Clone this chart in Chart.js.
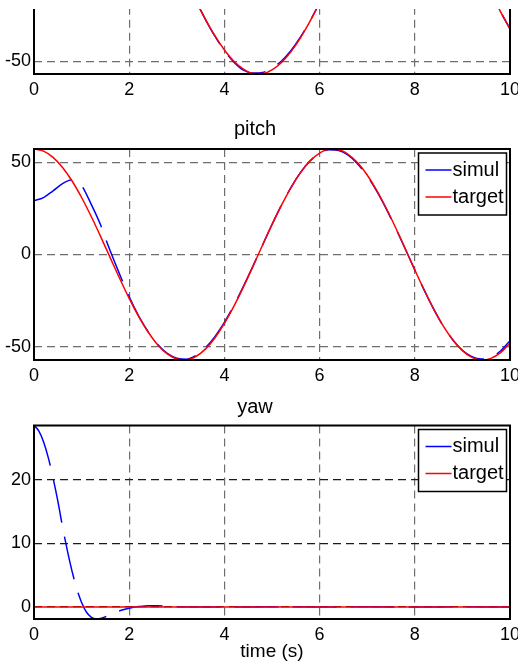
<!DOCTYPE html>
<html>
<head>
<meta charset="utf-8">
<script src="https://cdn.jsdelivr.net/npm/chart.js@4.4.0/dist/chart.umd.min.js"></script>
<style>
  html, body { margin: 0; padding: 0; background: #fff; overflow: hidden; width: 518px; height: 665px; }
  .painel { position: absolute; left: 0; }
  #caixaRoll { position: absolute; left: 0; top: 9px; width: 540px; height: 91px; overflow: hidden; }
  #graficoRoll { position: absolute; left: 0; top: -146px; }
</style>
</head>
<body>
<div id="caixaRoll"><canvas id="graficoRoll" width="540" height="241"></canvas></div>
<canvas id="graficoPitch" class="painel" style="top:110px" width="540" height="280"></canvas>
<canvas id="graficoYaw" class="painel" style="top:390px" width="540" height="275"></canvas>

<script>
// ================================
// Dados
// ================================
const tempoTicks = [0, 2, 4, 6, 8, 10]
const anguloTicks = [-50, 0, 50]
const yawTicks = [0, 10, 20]

const tempo = [
  0, 0.2, 0.4, 0.6, 0.8, 1.0, 1.2, 1.4, 1.6, 1.8, 2.0, 2.2, 2.4, 2.6, 2.8, 3.0, 3.2,
  3.4, 3.6, 3.8, 4.0, 4.2, 4.4, 4.6, 4.8, 5.0, 5.2, 5.4, 5.6, 5.8, 6.0, 6.2, 6.4,
  6.6, 6.8, 7.0, 7.2, 7.4, 7.6, 7.8, 8.0, 8.2, 8.4, 8.6, 8.8, 9.0, 9.2, 9.4, 9.6,
  9.8, 10.0,
]

// roll (painel de cima, cortado)
const rollTarget = [
  0, 11.38, 22.31, 32.35, 41.1, 48.22, 53.4, 56.47, 57.28, 55.8, 52.1, 46.33, 38.71,
  29.54, 19.2, 8.09, -3.35, -14.64, -25.36, -35.06, -43.36, -49.94, -54.53, -56.94,
  -57.08, -54.95, -50.62, -44.28, -36.17, -26.62, -16.01, -4.76, 6.68, 17.85, 28.31,
  37.65, 45.48, 51.5, 55.46, 57.21, 56.69, 53.9, 48.97, 42.08, 33.52, 23.61, 12.77,
  1.42, -9.99, -21.0, -31.17,
]
const rollSimul = [
  0, 11.3, 22.2, 32.3, 41.0, 48.1, 53.3, 56.4, 57.2, 55.8, 52.1, 46.3, 38.7,
  29.5, 19.2, 8.1, -3.3, -14.7, -25.5, -35.3, -43.8, -50.4, -55.0, -56.7,
  -56.4, -54.0, -49.7, -43.6, -35.8, -26.4, -15.9, -4.7, 6.7, 17.8, 28.3,
  37.6, 45.5, 51.5, 55.4, 57.2, 56.7, 53.9, 49.0, 42.1, 33.5, 23.6, 12.8,
  1.4, -10.0, -21.0, -31.1,
]

// pitch
const pitchTarget = [
  57.3, 56.16, 52.78, 47.29, 39.92, 30.96, 20.76, 9.74, -1.67, -13.02, -23.84, -33.72,
  -42.25, -49.1, -53.99, -56.73, -57.2, -55.4, -51.39, -45.32, -37.45, -28.09, -17.61,
  -6.43, 5.01, 16.26, 26.84, 36.37, 44.44, 50.74, 55.02, 57.1, 56.91, 54.45, 49.82,
  43.2, 34.86, 25.13, 14.4, 3.09, -8.34, -19.44, -29.76, -38.89, -46.48, -52.21,
  -55.86, -57.29, -56.42, -53.3, -48.08,
]
const pitchSimulTempo = [
  0, 0.2, 0.4, 0.6, 0.8, 0.9, 1.0, 1.2, 1.4, 1.5, 1.6, 1.8, 2.0, 2.2, 2.4, 2.6, 2.8,
  3.0, 3.2, 3.4, 3.6, 3.8, 4.0, 4.2, 4.4, 4.6, 4.8, 5.0, 5.2, 5.4, 5.6, 5.8, 6.0, 6.2,
  6.4, 6.6, 6.8, 7.0, 7.2, 7.4, 7.6, 7.8, 8.0, 8.2, 8.4, 8.6, 8.8, 9.0, 9.2, 9.4, 9.6,
  9.8, 10.0,
]
const pitchSimul = [
  29.2, 30.9, 34.6, 38.5, 40.6, 40.0, 37.5, 27.4, 16.0, 8.8, 2.0, -10.8, -23.0, -33.4,
  -42.0, -48.9, -53.7, -56.3, -56.9, -54.9, -50.7, -44.6, -36.9, -27.6, -17.3, -6.3,
  5.0, 16.3, 26.9, 36.5, 44.6, 50.9, 55.0, 56.9, 56.5, 53.9, 49.2, 42.6, 34.4, 24.8,
  14.2, 3.0, -8.4, -19.5, -29.8, -38.9, -46.4, -52.0, -55.5, -56.8, -55.9, -52.4, -46.8,
]

// yaw
const yawTargetTempo = [0, 10]
const yawTarget = [0, 0]
const yawSimulTempo = [
  0, 0.1, 0.2, 0.3, 0.4, 0.5, 0.6, 0.7, 0.8, 0.9, 1.0, 1.1, 1.2, 1.3, 1.4, 1.5, 1.6,
  1.8, 2.0, 2.2, 2.4, 2.6, 2.8, 3.0, 3.5, 4, 5, 6, 7, 8, 9, 10,
]
const yawSimul = [
  28.55, 27.7, 26.0, 23.5, 20.3, 16.7, 12.6, 8.9, 5.6, 2.8, 0.7, -0.8, -1.6, -1.88,
  -1.8, -1.55, -1.25, -0.6, -0.2, 0.05, 0.2, 0.2, 0.1, 0.02, 0, -0.03, 0.02, 0, 0.02,
  0, 0.01, 0,
]

// ================================
// Estilo
// ================================
const FONTE = "'Liberation Sans', Arial, sans-serif"
const AZUL = "#0000ff"
const VERMELHO = "#ff0000"
const CINZA = "#6e6e6e"

Chart.defaults.font.family = FONTE
Chart.defaults.color = "#000"

function pares(xs, ys) {
  return xs.map((x, i) => ({ x: x, y: ys[i] }))
}

// moldura fechada (box on)
const pluginMoldura = {
  id: "moldura",
  afterDatasetsDraw(chart) {
    const { ctx, chartArea: a } = chart
    ctx.save()
    ctx.strokeStyle = "#000"
    ctx.lineWidth = 2
    ctx.strokeRect(a.left, a.top, a.right - a.left, a.bottom - a.top)
    ctx.restore()
  },
}

// legenda dentro do eixo, canto superior direito
const pluginLegenda = {
  id: "legendaCaixa",
  afterDraw(chart, args, opts) {
    if (!opts.display) return
    const { ctx, chartArea: a } = chart
    const w = 88
    const h = 62
    const x0 = a.right - 3.5 - w
    const y0 = a.top + 4
    ctx.save()
    ctx.fillStyle = "#fff"
    ctx.fillRect(x0, y0, w, h)
    ctx.strokeStyle = "#000"
    ctx.lineWidth = 1.5
    ctx.strokeRect(x0, y0, w, h)
    ctx.font = "20px " + FONTE
    ctx.textBaseline = "middle"
    chart.data.datasets.forEach((ds, i) => {
      const y = y0 + 17 + i * 27
      ctx.strokeStyle = ds.borderColor
      ctx.lineWidth = 1.5
      ctx.beginPath()
      ctx.moveTo(x0 + 7, y)
      ctx.lineTo(x0 + 33, y)
      ctx.stroke()
      ctx.fillStyle = "#000"
      ctx.fillText(ds.label, x0 + 34, y)
    })
    ctx.restore()
  },
}

function montarGrafico(id, cfg) {
  const ctx = document.getElementById(id).getContext("2d")
  return new Chart(ctx, {
    type: "line",
    data: {
      datasets: [
        {
          label: "simul",
          data: cfg.simul,
          borderColor: AZUL,
          borderWidth: 1.5,
          borderDash: [44, 14],
          order: 1,
        },
        {
          label: "target",
          data: cfg.target,
          borderColor: VERMELHO,
          borderWidth: 1.5,
          order: 0,
        },
      ],
    },
    options: {
      responsive: false,
      animation: false,
      layout: { padding: { left: 0, right: 30, top: 0, bottom: 0 } },
      elements: {
        point: { radius: 0 },
        line: { cubicInterpolationMode: "monotone" },
      },
      plugins: {
        legend: { display: false },
        tooltip: { enabled: false },
        title: cfg.titulo
          ? {
              display: true,
              text: cfg.titulo,
              font: { size: 20, weight: "normal" },
              color: "#000",
              padding: cfg.tituloPad,
            }
          : { display: false },
        legendaCaixa: { display: cfg.legenda },
      },
      scales: {
        x: {
          type: "linear",
          min: 0,
          max: 10,
          afterBuildTicks: (s) => {
            s.ticks = tempoTicks.map((v) => ({ value: v }))
          },
          afterFit: (s) => {
            s.height = cfg.alturaX
          },
          grid: { color: CINZA, lineWidth: 1.2, drawTicks: false },
          border: { display: false, dash: [8, 5] },
          ticks: { padding: 5, font: { size: 18 }, maxRotation: 0, autoSkip: false },
          title: cfg.rotuloX
            ? {
                display: true,
                text: cfg.rotuloX,
                font: { size: 19 },
                padding: { top: 0, bottom: 2 },
              }
            : { display: false },
        },
        y: {
          min: cfg.yMin,
          max: cfg.yMax,
          afterBuildTicks: (s) => {
            s.ticks = cfg.yTicks.map((v) => ({ value: v }))
          },
          afterFit: (s) => {
            s.width = 34
          },
          grid: { color: cfg.corGradeY || CINZA, lineWidth: 1.2, drawTicks: false },
          border: { display: false, dash: [8, 5] },
          ticks: { padding: 3, font: { size: 18 } },
        },
      },
    },
    plugins: [pluginMoldura, pluginLegenda],
  })
}

// ================================
// Inicialização
// ================================
document.addEventListener("DOMContentLoaded", () => {
  montarGrafico("graficoRoll", {
    simul: pares(tempo, rollSimul),
    target: pares(tempo, rollTarget),
    yMin: -57.3,
    yMax: 57.3,
    yTicks: anguloTicks,
    alturaX: 30,
    legenda: false,
  })
  montarGrafico("graficoPitch", {
    simul: pares(pitchSimulTempo, pitchSimul),
    target: pares(tempo, pitchTarget),
    yMin: -57.3,
    yMax: 57.3,
    yTicks: anguloTicks,
    titulo: "pitch",
    tituloPad: { top: 7, bottom: 8 },
    alturaX: 30,
    legenda: true,
  })
  montarGrafico("graficoYaw", {
    simul: pares(yawSimulTempo, yawSimul),
    target: pares(yawTargetTempo, yawTarget),
    yMin: -1.9,
    yMax: 28.55,
    yTicks: yawTicks,
    titulo: "yaw",
    tituloPad: { top: 5.5, bottom: 6 },
    alturaX: 46,
    rotuloX: "time (s)",
    corGradeY: "#1a1a1a",
    legenda: true,
  })
})
</script>
</body>
</html>
